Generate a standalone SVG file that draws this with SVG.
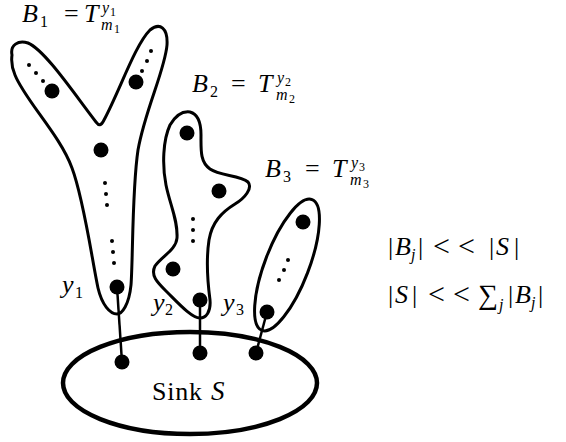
<svg xmlns="http://www.w3.org/2000/svg" width="566" height="442" viewBox="0 0 566 442">
<style>
.blob{fill:none;stroke:#000;stroke-width:3;stroke-linejoin:round}
.sink{fill:none;stroke:#000;stroke-width:4.5}
.big{fill:#000}
.sm{fill:#000}
.con{stroke:#000;stroke-width:2.5;fill:none}
.t{font-family:'Liberation Serif',serif;font-size:26px;fill:#000}
.i{font-style:italic}
.s{font-size:16px}
.ss{font-size:12px}
.op{font-size:30px}
</style>
<rect width="566" height="442" fill="#fff"/>
<g id="B1">
<path class="blob" d="M 12,55 C 10,45 18,40 28,43 C 45,50 75,95 96,122 C 99,126 101,126 104,120 C 120,90 135,45 150,30 C 160,22 168,28 167,45 C 165,70 145,110 138,150 C 132,190 133,260 131,285 C 129,305 122,314 117,314 C 110,314 102,305 98,288 C 92,260 84,200 72,168 C 60,135 25,100 15,75 C 12,68 11,62 12,55 Z"/>
<circle class="sm" cx="29" cy="65" r="2"/><circle class="sm" cx="36" cy="73" r="2"/><circle class="sm" cx="43" cy="81" r="2"/>
<circle class="big" cx="52" cy="91" r="7.5"/>
<circle class="sm" cx="151" cy="51" r="2"/><circle class="sm" cx="147" cy="61" r="2"/><circle class="sm" cx="142" cy="71" r="2"/>
<circle class="big" cx="136" cy="82" r="7.5"/>
<circle class="big" cx="101" cy="150" r="7.5"/>
<circle class="sm" cx="105" cy="183" r="2"/><circle class="sm" cx="106" cy="194" r="2"/><circle class="sm" cx="107" cy="205" r="2"/>
<circle class="sm" cx="112" cy="241" r="2"/><circle class="sm" cx="113" cy="252" r="2"/><circle class="sm" cx="114" cy="263" r="2"/>
<circle class="big" cx="117" cy="287" r="7.5"/>
<text class="t" x="22" y="22"><tspan class="i">B</tspan><tspan class="s" x="40" y="27">1</tspan><tspan x="64" y="22">=</tspan><tspan class="i" x="84" y="22">T</tspan><tspan class="i s" x="102" y="13">y</tspan><tspan class="ss" x="110" y="16">1</tspan><tspan class="i s" x="101" y="30">m</tspan><tspan class="ss" x="114" y="33">1</tspan></text>
<text class="t" x="62" y="293"><tspan class="i">y</tspan><tspan class="s" x="75" y="298">1</tspan></text>
</g>
<g id="B2">
<path class="blob" d="M 190,112 C 198,114 201,122 201,135 C 201,150 200,162 210,169 C 220,176 240,175 248,182 C 253,188 245,198 235,204 C 222,212 212,222 209,240 C 206,260 208,285 210,300 C 211,312 206,318 200,318 C 192,318 180,305 168,293 C 158,283 150,276 155,266 C 162,256 176,250 177,238 C 178,220 170,205 166,185 C 162,165 163,140 170,125 C 176,115 183,111 190,112 Z"/>
<circle class="big" cx="187" cy="133" r="7.5"/>
<circle class="big" cx="219" cy="191" r="7.5"/>
<circle class="sm" cx="193" cy="219" r="2"/><circle class="sm" cx="193" cy="230" r="2"/><circle class="sm" cx="193" cy="241" r="2"/>
<circle class="big" cx="173" cy="269" r="7.5"/>
<circle class="big" cx="200" cy="300" r="7.5"/>
<text class="t" x="192" y="92"><tspan class="i">B</tspan><tspan class="s" x="210" y="97">2</tspan><tspan x="231" y="92">=</tspan><tspan class="i" x="258" y="92">T</tspan><tspan class="i s" x="277" y="83">y</tspan><tspan class="ss" x="285" y="86">2</tspan><tspan class="i s" x="276" y="100">m</tspan><tspan class="ss" x="289" y="103">2</tspan></text>
<text class="t" x="153" y="311"><tspan class="i">y</tspan><tspan class="s" x="165" y="315">2</tspan></text>
</g>
<g id="B3">
<ellipse class="blob" cx="287" cy="265" rx="70" ry="22" transform="rotate(-69 287 265)"/>
<circle class="big" cx="303" cy="222" r="7.5"/>
<circle class="sm" cx="288" cy="260" r="2"/><circle class="sm" cx="284" cy="270" r="2"/><circle class="sm" cx="279" cy="280" r="2"/>
<circle class="big" cx="267" cy="312" r="7.5"/>
<text class="t" x="265" y="177"><tspan class="i">B</tspan><tspan class="s" x="283" y="182">3</tspan><tspan x="305" y="177">=</tspan><tspan class="i" x="332" y="177">T</tspan><tspan class="i s" x="351" y="168">y</tspan><tspan class="ss" x="359" y="171">3</tspan><tspan class="i s" x="350" y="185">m</tspan><tspan class="ss" x="363" y="188">3</tspan></text>
<text class="t" x="223" y="311"><tspan class="i">y</tspan><tspan class="s" x="236" y="315">3</tspan></text>
</g>
<g id="Sink">
<ellipse class="sink" cx="190" cy="383" rx="127" ry="51"/>
<circle class="big" cx="122" cy="362" r="7.5"/>
<circle class="big" cx="200" cy="353" r="7.5"/>
<circle class="big" cx="256" cy="353" r="7.5"/>
<text class="t" x="152" y="400"><tspan textLength="50">Sink</tspan><tspan class="i" x="211" font-size="27">S</tspan></text>
</g>
<g id="connectors">
<line class="con" x1="117" y1="287" x2="122" y2="362"/>
<line class="con" x1="200" y1="300" x2="200" y2="353"/>
<line class="con" x1="267" y1="312" x2="256" y2="353"/>
</g>
<g id="formulas">
<text class="t" y="255"><tspan x="388">|</tspan><tspan class="i" x="395">B</tspan><tspan class="i s" x="411" y="260">j</tspan><tspan x="418" y="255">|</tspan><tspan class="op" x="433" y="256">&lt;</tspan><tspan class="op" x="458">&lt;</tspan><tspan x="489" y="255">|</tspan><tspan class="i" x="496">S</tspan><tspan x="514">|</tspan></text>
<text class="t" y="303"><tspan x="388">|</tspan><tspan class="i" x="395">S</tspan><tspan x="412">|</tspan><tspan class="op" x="428" y="304">&lt;</tspan><tspan class="op" x="453">&lt;</tspan><tspan x="478" y="304" font-size="28">∑</tspan><tspan class="i s" x="499" y="310">j</tspan><tspan x="508" y="303">|</tspan><tspan class="i" x="515">B</tspan><tspan class="i s" x="531" y="308">j</tspan><tspan x="538" y="303">|</tspan></text>
</g>
</svg>
